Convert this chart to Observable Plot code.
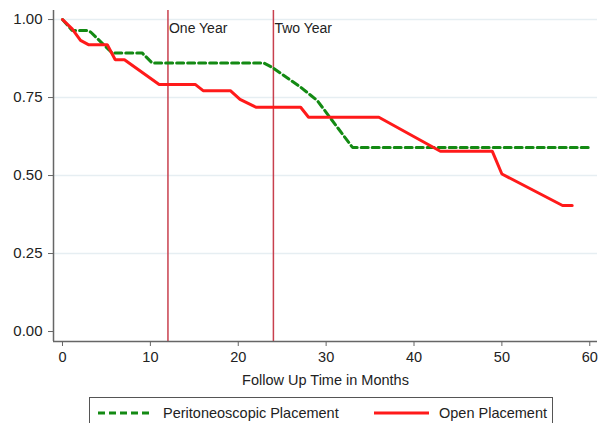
<!DOCTYPE html>
<html>
<head>
<meta charset="utf-8">
<script src="https://cdn.jsdelivr.net/npm/d3@7"></script>
<script src="https://cdn.jsdelivr.net/npm/@observablehq/plot@0.6"></script>
<style>
  html, body { margin: 0; padding: 0; background: #fff; }
  #wrap { position: relative; width: 599px; height: 423px; overflow: hidden; background: #fff;
          font-family: "Liberation Sans", Arial, Helvetica, sans-serif; }
  #legend { position: absolute; left: 89px; top: 397px; width: 464px; height: 40px;
            box-sizing: border-box; border: 1px solid #555; background: #fff; }
  #legend svg { position: absolute; left: 0; top: 0; }
</style>
</head>
<body>
<div id="wrap">
  <div id="chart"></div>
  <div id="legend"></div>
</div>
<script>
// ---- data ----
const monthsPerit = [0, 1.1, 2.8, 3.2, 5.65, 9.06, 10.2, 22.9, 23.85, 27.1, 29, 33, 60];
const survPerit   = [1, 0.965, 0.965, 0.96, 0.893, 0.893, 0.861, 0.861, 0.847, 0.783, 0.74, 0.59, 0.59];

const monthsOpen = [0, 1.1, 2.05, 3, 5.1, 6, 7.05, 11, 15.1, 16, 19.1, 20.2, 22, 27.1, 28, 36, 43, 48.9, 50, 56.9, 58];
const survOpen   = [1, 0.97, 0.933, 0.919, 0.919, 0.871, 0.871, 0.792, 0.792, 0.772, 0.772, 0.744, 0.719, 0.719, 0.687, 0.687, 0.578, 0.578, 0.505, 0.404, 0.404];

const seriesNames = ["Peritoneoscopic Placement", "Open Placement"];
const yearMarks = [12, 24];
const yearLabels = ["One Year", "Two Year"];
const xTicks = [0, 10, 20, 30, 40, 50, 60];
const yTicks = [0, 0.25, 0.5, 0.75, 1];
const xTitle = "Follow Up Time in Months";

// ---- build tables ----
const perit = monthsPerit.map((m, i) => ({month: m, surv: survPerit[i]}));
const open = monthsOpen.map((m, i) => ({month: m, surv: survOpen[i]}));
const marks = yearMarks.map((m, i) => ({month: m, label: yearLabels[i]}));

const xDomain = [-1.024, 60.88];
const yDomain = [-0.032, 1.029];

const GREEN = "#138a13";
const RED = "#ff1a1a";
const VLINE = "#c8404e";
const FONT = "'Liberation Sans', Arial, Helvetica, sans-serif";

const chart = Plot.plot({
  width: 599,
  height: 395,
  marginLeft: 53,
  marginRight: 2,
  marginTop: 10,
  marginBottom: 54,
  style: {fontFamily: FONT, fontSize: "15px", color: "#222", background: "#fff"},
  x: {domain: xDomain},
  y: {domain: yDomain},
  marks: [
    Plot.ruleY(yTicks.filter(d => d > 0), {stroke: "#e6eef2", strokeWidth: 1.5}),
    Plot.ruleX(marks, {x: "month", stroke: VLINE, strokeWidth: 1.5}),
    Plot.text(marks, {x: "month", text: "label", frameAnchor: "top", dy: 18, dx: 1,
                      textAnchor: "start", lineAnchor: "middle", fontSize: 14, fill: "#222"}),
    Plot.line(perit, {x: "month", y: "surv", stroke: GREEN, strokeWidth: 3,
                      strokeDasharray: "7,4", strokeLinejoin: "miter"}),
    Plot.line(open, {x: "month", y: "surv", stroke: RED, strokeWidth: 3, strokeLinejoin: "miter"}),
    Plot.ruleX([xDomain[0]], {stroke: "#666", strokeWidth: 1.5}),
    Plot.ruleY([yDomain[0]], {stroke: "#666", strokeWidth: 1.5}),
    Plot.axisY({ticks: yTicks, tickFormat: d3.format(".2f"), tickSize: 5, tickPadding: 6,
                label: null, fontSize: 15, stroke: "#666"}),
    Plot.axisX({ticks: xTicks, tickFormat: d => String(d), tickSize: 5, tickPadding: 5,
                label: null, fontSize: 14.5, stroke: "#666"}),
    Plot.text([xTitle], {text: d => d, frameAnchor: "bottom", dy: 39, lineAnchor: "middle",
                         fontSize: 14.5, fill: "#222"})
  ]
});
document.getElementById("chart").appendChild(chart);

// ---- legend ----
const ns = "http://www.w3.org/2000/svg";
const lg = d3.select("#legend").append("svg").attr("width", 464).attr("height", 40);
const items = [
  {name: seriesNames[0], color: GREEN, dash: "7,4", x1: 8, x2: 63, tx: 73},
  {name: seriesNames[1], color: RED, dash: null, x1: 284, x2: 339, tx: 349}
];
items.forEach(it => {
  lg.append("line").attr("x1", it.x1).attr("x2", it.x2).attr("y1", 15).attr("y2", 15)
    .attr("stroke", it.color).attr("stroke-width", 3)
    .attr("stroke-dasharray", it.dash);
  lg.append("text").attr("x", it.tx).attr("y", 15).attr("dy", "0.35em")
    .attr("font-family", FONT).attr("font-size", 14.5).attr("fill", "#222").text(it.name);
});
</script>
</body>
</html>
